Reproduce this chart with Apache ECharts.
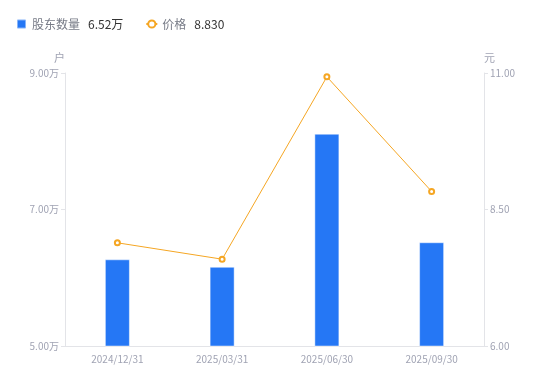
<!DOCTYPE html>
<html>
<head>
<meta charset="utf-8">
<script src="https://cdn.jsdelivr.net/npm/echarts@6/dist/echarts.min.js"></script>
<style>
  html, body { margin: 0; padding: 0; background: #fff; }
  #chart { width: 550px; height: 381px; }
</style>
</head>
<body>
<div id="chart"></div>
<script>
const categories = ['2024/12/31', '2025/03/31', '2025/06/30', '2025/09/30'];
// 股东数量（万户）
const holders = [6.27, 6.16, 8.11, 6.52];
// 价格（元）
const prices = [7.89, 7.59, 10.93, 8.83];

const C_BAR = '#2577f5';
const C_LINE = '#f5a623';
const AXIS_TEXT = '#a0a3b3';
const AXIS_LINE = '#e3e4e8';
const FONT = '"Noto Sans CJK SC", "Noto Sans", sans-serif';

const lastHolder = holders[holders.length - 1].toFixed(2) + '万';
const lastPrice = prices[prices.length - 1].toFixed(3);

const chart = echarts.init(document.getElementById('chart'));
chart.setOption({
  animation: false,
  textStyle: { fontFamily: FONT },
  grid: { left: 65, right: 66, top: 73, bottom: 35 },
  legend: {
    top: 13,
    left: 11,
    itemGap: 22,
    itemWidth: 11,
    itemHeight: 9,
    data: [
      { name: '股东数量', icon: 'path://M1,0h8a1,1 0 0 1 1,1v8a1,1 0 0 1 -1,1h-8a1,1 0 0 1 -1,-1v-8a1,1 0 0 1 1,-1z', itemStyle: { color: C_BAR } },
      { name: '价格' },
    ],
    formatter: name => {
      const v = name === '股东数量' ? lastHolder : lastPrice;
      return `{n|${name}}{v|${v}}`;
    },
    textStyle: {
      rich: {
        n: { fontSize: 12, color: '#777b87', padding: [0, 8, 0, 0], fontFamily: FONT },
        v: { fontSize: 12, color: '#333', fontFamily: FONT },
      },
    },
  },
  xAxis: {
    type: 'category',
    data: categories,
    axisLine: { lineStyle: { color: AXIS_LINE } },
    axisTick: { show: false },
    axisLabel: { fontSize: 10, color: AXIS_TEXT, margin: 8 },
  },
  yAxis: [
    {
      type: 'value', min: 5, max: 9, interval: 2,
      name: '户', nameGap: 10,
      nameTextStyle: { fontSize: 11, color: AXIS_TEXT, align: 'right' },
      axisLine: { show: true, lineStyle: { color: AXIS_LINE } },
      axisTick: { show: true, length: 4, lineStyle: { color: AXIS_LINE } },
      axisLabel: { fontSize: 10, color: AXIS_TEXT, margin: 6, formatter: v => v.toFixed(2) + '万' },
      splitLine: { show: false },
    },
    {
      type: 'value', min: 6, max: 11, interval: 2.5,
      name: '元', nameGap: 10,
      nameTextStyle: { fontSize: 11, color: AXIS_TEXT, align: 'left' },
      axisLine: { show: true, lineStyle: { color: AXIS_LINE } },
      axisTick: { show: true, length: 4, lineStyle: { color: AXIS_LINE } },
      axisLabel: { fontSize: 10, color: AXIS_TEXT, margin: 6, formatter: v => v.toFixed(2) },
      splitLine: { show: false },
    },
  ],
  series: [
    {
      name: '股东数量', type: 'bar', yAxisIndex: 0,
      data: holders, barWidth: 25,
      itemStyle: { color: C_BAR, borderColor: 'rgba(255,255,255,0.45)', borderWidth: 1 },
    },
    {
      name: '价格', type: 'line', yAxisIndex: 1,
      data: prices, symbol: 'emptyCircle', symbolSize: 5,
      lineStyle: { color: C_LINE, width: 1 },
      itemStyle: { color: C_LINE, borderWidth: 1.5 },
      z: 5,
    },
  ],
});
</script>
</body>
</html>
